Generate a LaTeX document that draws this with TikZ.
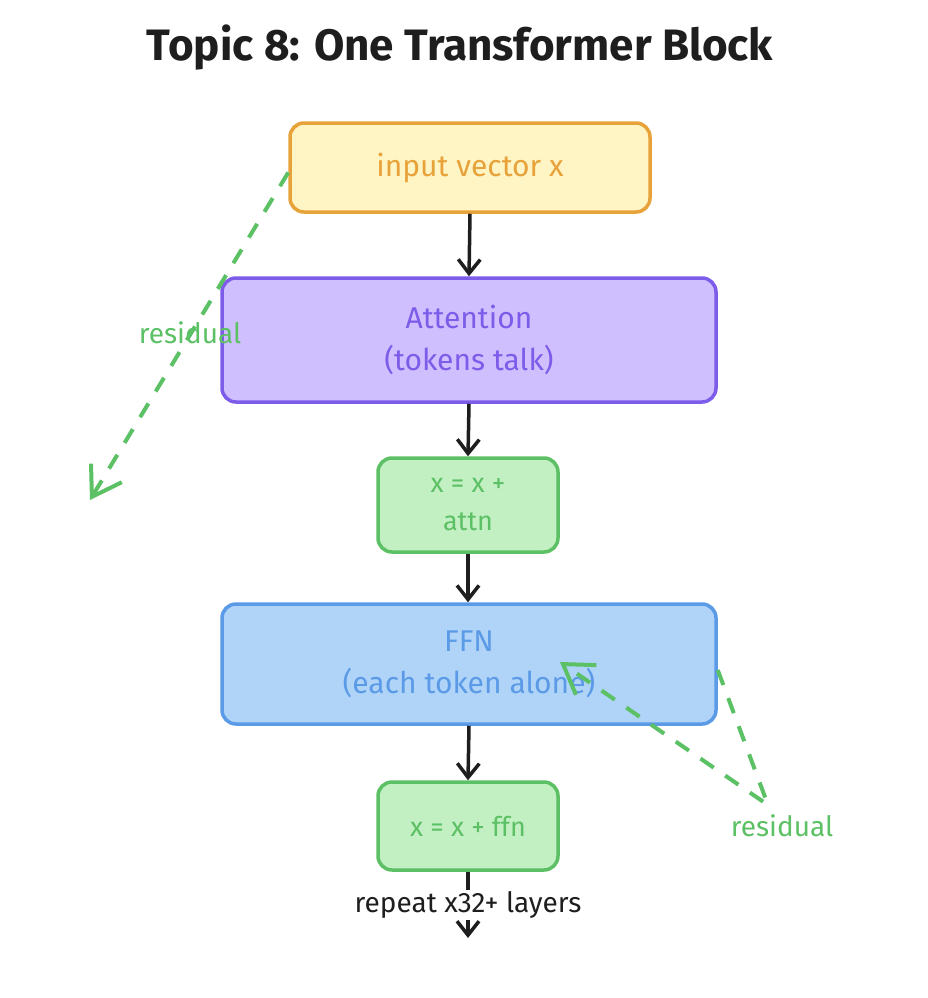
\documentclass[tikz,border=0pt]{standalone}
\usepackage{fontspec}
\setmainfont{Fira Sans}
\usetikzlibrary{arrows.meta}
\definecolor{orn}{HTML}{E8A23A}\definecolor{ornf}{HTML}{FFF4C4}
\definecolor{pur}{HTML}{7C5CE8}\definecolor{purf}{HTML}{D0BFFF}
\definecolor{grn}{HTML}{5CC065}\definecolor{grnf}{HTML}{C3F0C3}
\definecolor{blu}{HTML}{5B9AE6}\definecolor{bluf}{HTML}{B0D4F8}
\definecolor{ink}{HTML}{1E1E1E}
\tikzset{box/.style={draw,line width=3.5pt,rounded corners=14pt,align=center,inner sep=0pt,font=\fontsize{30}{42}\selectfont},
 flow/.style={ink,line width=3.5pt,-{Straight Barb[length=14pt,width=22pt]}},
 res/.style={grn,line width=4pt,dash pattern=on 16pt off 14pt,-{Straight Barb[length=28pt,width=36pt]}},
 reslbl/.style={grn,font=\fontsize{28}{32}\selectfont}}
\begin{document}
\begin{tikzpicture}[x=1pt,y=-1pt]
\useasboundingbox (0,0) rectangle (928,998);
\node[font=\fontsize{44}{50}\selectfont\bfseries,text=ink] (title) at (460,48) {Topic 8: One Transformer Block};
\node[box,draw=orn,fill=ornf,text=orn,minimum width=360pt,minimum height=89pt] (inp) at (470,167.5) {input vector x};
\node[box,draw=pur,fill=purf,text=pur,minimum width=494pt,minimum height=124pt] (att) at (469,340) {Attention\\(tokens talk)};
\node[box,draw=grn,fill=grnf,text=grn,minimum width=180pt,minimum height=94pt,font=\fontsize{27}{38}\selectfont] (add1) at (468,505) {x = x +\\attn};
\node[box,draw=blu,fill=bluf,text=blu,minimum width=494pt,minimum height=120pt] (ffn) at (469,664) {FFN\\(each token alone)};
\node[box,draw=grn,fill=grnf,text=grn,minimum width=180pt,minimum height=88pt,font=\fontsize{27}{38}\selectfont] (add2) at (468,826) {x = x + ffn};
\coordinate (end) at (468,938);
\coordinate (r1) at (90,500);
\coordinate (r2a) at (768,805);
\coordinate (r2b) at (560,662);
\draw[flow] (inp.south) -- (att.north);
\draw[flow] (att.south) -- (add1.north);
\draw[flow] (add1.south) -- (add2.north |- ffn.north);
\draw[flow] (ffn.south) -- (add2.north);
\draw[flow] (add2.south) -- (end);
\node[fill=white,text=ink,font=\fontsize{28}{32}\selectfont,inner sep=2pt] (rep) at (468,905) {repeat x32+ layers};
\draw[res] (inp.west) ++(0,5) -- (r1);
\draw[res] ([yshift=-6pt]ffn.east) -- (r2a) -- (r2b);
\node[reslbl] (rl1) at (190,333) {residual};
\node[reslbl] (rl2) at (782,826) {residual};
\end{tikzpicture}
\end{document}
